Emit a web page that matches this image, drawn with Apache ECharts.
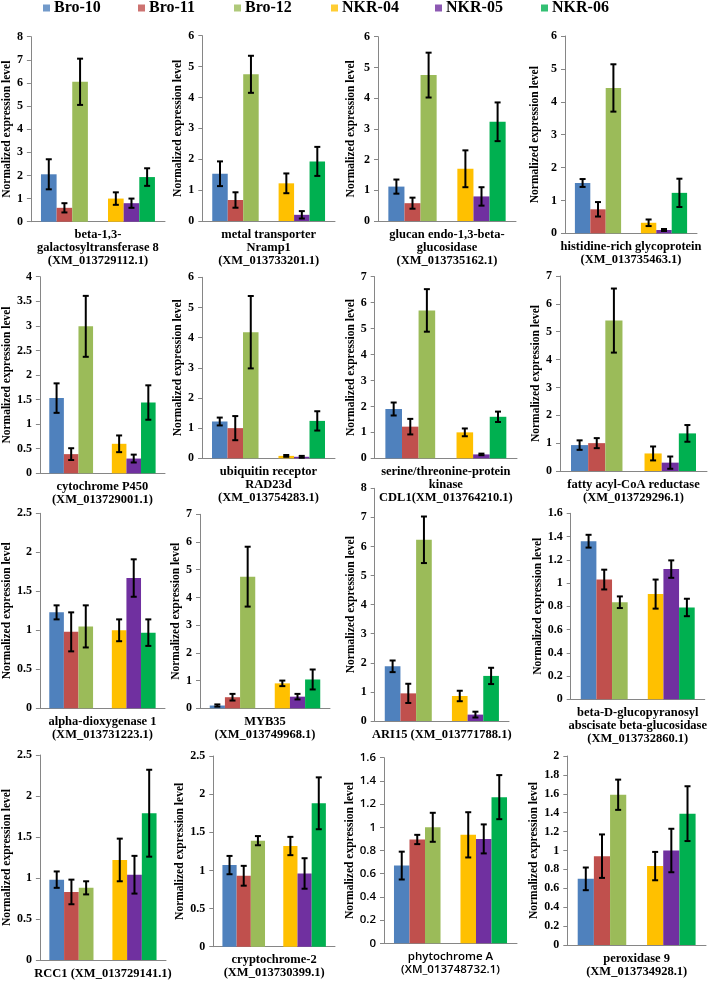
<!DOCTYPE html>
<html><head><meta charset="utf-8">
<script src="https://cdn.jsdelivr.net/npm/echarts@6/dist/echarts.min.js"></script>
<style>html,body{margin:0;padding:0;background:#fff}#c{width:709px;height:981px}</style>
</head><body><div id="c"></div>
<script>
// ---------- data ----------
const seriesNames = ['Bro-10', 'Bro-11', 'Bro-12', 'NKR-04', 'NKR-05', 'NKR-06'];
const groups = ['Bro', 'NKR'];
const panelLabels = [
  'beta-1,3-\ngalactosyltransferase 8\n(XM_013729112.1)',
  'metal transporter\nNramp1\n(XM_013733201.1)',
  'glucan endo-1,3-beta-\nglucosidase\n(XM_013735162.1)',
  'histidine-rich glycoprotein\n(XM_013735463.1)',
  'cytochrome P450\n(XM_013729001.1)',
  'ubiquitin receptor\nRAD23d\n(XM_013754283.1)',
  'serine/threonine-protein\nkinase\nCDL1(XM_013764210.1)',
  'fatty acyl-CoA reductase\n(XM_013729296.1)',
  'alpha-dioxygenase 1\n(XM_013731223.1)',
  'MYB35\n(XM_013749968.1)',
  'ARI15 (XM_013771788.1)',
  'beta-D-glucopyranosyl\nabscisate beta-glucosidase\n(XM_013732860.1)',
  'RCC1 (XM_013729141.1)',
  'cryptochrome-2\n(XM_013730399.1)',
  'phytochrome A\n(XM_013748732.1)',
  'peroxidase 9\n(XM_013734928.1)'
];
const yTitle = 'Normalized expression level';
const yMaxes    = [8, 6, 6, 6, 4, 6, 7, 7, 2.5, 7, 8, 1.6, 2.5, 2.5, 1.6, 2];
const yIntervals = [1, 1, 1, 1, 0.5, 1, 1, 1, 0.5, 1, 1, 0.2, 0.5, 0.5, 0.2, 0.2];
const means = [
  [2.05, 0.60, 6.05, 1.00, 0.80, 1.93],
  [1.53, 0.68, 4.75, 1.22, 0.20, 1.93],
  [1.12, 0.58, 4.75, 1.70, 0.80, 3.23],
  [1.53, 0.73, 4.42, 0.32, 0.10, 1.23],
  [1.53, 0.39, 2.99, 0.60, 0.30, 1.44],
  [1.22, 1.00, 4.18, 0.08, 0.05, 1.24],
  [1.90, 1.22, 5.70, 1.00, 0.15, 1.60],
  [0.93, 1.00, 5.40, 0.63, 0.30, 1.35],
  [1.23, 0.98, 1.05, 1.00, 1.67, 0.97],
  [0.10, 0.40, 4.75, 0.90, 0.42, 1.04],
  [1.88, 0.95, 6.23, 0.86, 0.22, 1.55],
  [1.36, 1.03, 0.835, 0.905, 1.12, 0.79],
  [0.98, 0.83, 0.88, 1.22, 1.04, 1.79],
  [1.07, 0.93, 1.39, 1.32, 0.96, 1.88],
  [0.67, 0.895, 1.00, 0.935, 0.90, 1.26],
  [0.70, 0.94, 1.59, 0.835, 1.00, 1.39]
];
const errors = [
  [0.65, 0.20, 1.00, 0.27, 0.20, 0.38],
  [0.40, 0.25, 0.60, 0.32, 0.12, 0.47],
  [0.23, 0.18, 0.73, 0.60, 0.30, 0.63],
  [0.12, 0.22, 0.72, 0.10, 0.03, 0.43],
  [0.30, 0.12, 0.62, 0.17, 0.08, 0.35],
  [0.13, 0.40, 1.20, 0.03, 0.03, 0.32],
  [0.25, 0.30, 0.82, 0.15, 0.03, 0.20],
  [0.17, 0.18, 1.15, 0.25, 0.22, 0.30],
  [0.09, 0.25, 0.27, 0.14, 0.24, 0.17],
  [0.04, 0.12, 1.08, 0.10, 0.10, 0.36],
  [0.20, 0.33, 0.80, 0.18, 0.10, 0.28],
  [0.055, 0.085, 0.05, 0.125, 0.075, 0.075],
  [0.10, 0.15, 0.08, 0.26, 0.23, 0.53],
  [0.12, 0.13, 0.06, 0.12, 0.20, 0.34],
  [0.12, 0.04, 0.125, 0.195, 0.125, 0.19],
  [0.12, 0.23, 0.16, 0.15, 0.23, 0.29]
];

// ---------- style / layout ----------
const colors = ['#4F81BD', '#C0504D', '#9BBB59', '#FFC000', '#7030A0', '#00B050'];
const SERIF = '"Liberation Serif", "Times New Roman", serif';
const SANS = '"Open Sans", "Liberation Sans", sans-serif';
// [axisX, topY, zeroY, axisEndX, yTitleGap]
const layout = [
  [30, 36.7, 221.7, 165, 17], [202.3, 35.7, 221, 335, 14], [378, 36.7, 221, 516, 21], [565, 36, 233.3, 697, 24],
  [39, 276.7, 473.3, 165, 25], [202, 277.3, 458.3, 335, 15], [374.7, 276.7, 458.3, 517, 17], [560, 276, 471, 707, 18],
  [39, 513.3, 708.3, 165, 25], [200, 514.3, 708.3, 330, 15], [374.7, 488.3, 721, 509, 17], [570.7, 513.3, 699.3, 706, 24],
  [39, 755, 960, 166, 25], [213.3, 756, 946.7, 335, 24], [384, 757.7, 943.3, 517, 25], [567.3, 756, 945, 706, 25]
];
const legendLeft = [43, 138, 234, 331, 435, 541];
const GAP = 0.30;
const W = 709, H = 981;

const grid = [], xAxis = [], yAxis = [], series = [];
panelLabels.forEach((lab, p) => {
  const [a, t, z, e, tg] = layout[p];
  const sans = p === 14;
  const font = sans ? SANS : SERIF;
  const fs = sans ? 11.5 : 12.5;
  grid.push({ left: a, top: t, right: W - e, bottom: H - z, containLabel: false });
  xAxis.push({
    type: 'category', gridIndex: p, data: groups,
    axisLine: { lineStyle: { color: '#868686', width: 1 } },
    axisTick: { show: false }, axisLabel: { show: false },
    name: lab, nameLocation: 'middle', nameGap: 7,
    nameTextStyle: { fontFamily: font, fontWeight: sans ? 600 : 'bold', fontSize: fs, lineHeight: 13, color: '#000', verticalAlign: 'top' }
  });
  yAxis.push({
    type: 'value', gridIndex: p, min: 0, max: yMaxes[p], interval: yIntervals[p],
    axisLine: { show: true, lineStyle: { color: '#868686', width: 1 } },
    axisTick: { show: true, length: 4, lineStyle: { color: '#868686' } },
    splitLine: { show: false },
    axisLabel: { margin: 8, fontFamily: font, fontWeight: sans ? 600 : 'bold', fontSize: sans ? 11.5 : 12, color: '#000' },
    name: yTitle, nameLocation: 'middle', nameGap: tg,
    nameTextStyle: { fontFamily: SERIF, fontWeight: 'bold', fontSize: 11.5, color: '#000' }
  });
  for (let k = 0; k < 3; k++) {
    series.push({
      type: 'bar', name: 'p' + p + 's' + k, xAxisIndex: p, yAxisIndex: p,
      barGap: '0%', barCategoryGap: (GAP * 100) + '%',
      data: [
        { value: means[p][k], itemStyle: { color: colors[k] } },
        { value: means[p][k + 3], itemStyle: { color: colors[k + 3] } }
      ],
      silent: true, animation: false
    });
  }
  const ebData = means[p].map((m, j) => [j < 3 ? 0 : 1, j % 3, m, errors[p][j]]);
  series.push({
    type: 'custom', name: 'err' + p, xAxisIndex: p, yAxisIndex: p,
    data: ebData, encode: { x: 0, y: 2 }, z: 5, silent: true, animation: false,
    renderItem: (params, api) => {
      const cat = api.value(0), slot = api.value(1), m = api.value(2), er = api.value(3);
      const catW = api.size([1, 0])[0];
      const bw = catW * (1 - GAP) / 3;
      const cx = api.coord([cat, m])[0] + (slot - 1) * bw;
      const yT = api.coord([cat, m + er])[1];
      const yB = api.coord([cat, Math.max(0, m - er)])[1];
      const cap = 3;
      const st = { stroke: '#000', lineWidth: 2 };
      return { type: 'group', children: [
        { type: 'line', shape: { x1: cx, y1: yT, x2: cx, y2: yB }, style: st },
        { type: 'line', shape: { x1: cx - cap, y1: yT, x2: cx + cap, y2: yT }, style: st },
        { type: 'line', shape: { x1: cx - cap, y1: yB, x2: cx + cap, y2: yB }, style: st }
      ] };
    }
  });
});
// dummy series to drive the legend
seriesNames.forEach((n, i) => {
  series.push({ type: 'scatter', name: n, xAxisIndex: 0, yAxisIndex: 0, data: [], itemStyle: { color: colors[i] } });
});
const legend = seriesNames.map((n, i) => ({
  data: [n], left: legendLeft[i], top: 0, padding: 0, icon: 'rect', itemWidth: 7, itemHeight: 7,
  selectedMode: false,
  textStyle: { fontFamily: SERIF, fontWeight: 'bold', fontSize: 16, color: '#000', padding: [0, 0, 0, -1] }
}));

const chart = echarts.init(document.getElementById('c'), null, { renderer: 'canvas' });
chart.setOption({ animation: false, backgroundColor: '#fff', grid, xAxis, yAxis, series, legend });
</script>
</body></html>
